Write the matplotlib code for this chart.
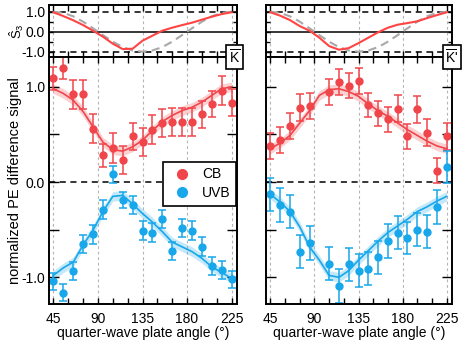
import numpy as np
import matplotlib
matplotlib.use("Agg")
import matplotlib.pyplot as plt
from matplotlib.lines import Line2D
from matplotlib.ticker import MultipleLocator, FormatStrFormatter

plt.rcParams["font.family"] = "Liberation Sans"
plt.rcParams["mathtext.fontset"] = "custom"
plt.rcParams["mathtext.rm"] = "Liberation Sans"
plt.rcParams["mathtext.it"] = "Liberation Sans:italic"
plt.rcParams["font.size"] = 10
plt.rcParams["axes.unicode_minus"] = False

# ===== DATA =====
angles = [45, 55, 65, 75, 85, 95, 105, 115, 125, 135, 145, 155, 165, 175, 185, 195, 205, 215, 225]
angles_kp = [45, 55, 65, 75, 85, 105, 115, 125, 135, 145, 155, 165, 175, 185, 195, 205, 215, 225]

# S3 of the light (top panels)
s3_ideal = [1.0, 0.94, 0.77, 0.5, 0.17, -0.17, -0.5, -0.77, -0.94, -1.0,
            -0.94, -0.77, -0.5, -0.17, 0.17, 0.5, 0.77, 0.94, 1.0]
s3_k = [0.97, 0.78, 0.57, 0.33, 0.05, -0.25, -0.6, -0.87, -0.85, -0.45,
        -0.2, 0.05, 0.2, 0.33, 0.45, 0.6, 0.75, 0.88, 0.97]
s3_kp = [0.97, 0.8, 0.58, 0.28, 0.05, -0.3, -0.72, -0.9, -0.82, -0.57,
         -0.3, -0.03, 0.2, 0.35, 0.43, 0.52, 0.68, 0.83, 0.97]

# K panel
cb_k = [1.09, 1.2, 0.92, 0.92, 0.56, 0.28, 0.36, 0.23, 0.48, 0.42,
        0.55, 0.62, 0.63, 0.63, 0.63, 0.71, 0.82, 0.96, 0.835]
cb_k_err = [0.12, 0.12, 0.15, 0.15, 0.15, 0.12, 0.155, 0.15, 0.145, 0.15,
            0.15, 0.15, 0.15, 0.145, 0.145, 0.14, 0.14, 0.155, 0.14]
cb_k_fit = [0.98, 0.93, 0.86, 0.74, 0.58, 0.42, 0.34, 0.325, 0.37, 0.44,
            0.54, 0.635, 0.70, 0.75, 0.785, 0.84, 0.91, 0.98, 1.0]
uvb_k = [-1.04, -1.16, -0.93, -0.65, -0.55, -0.29, 0.08, -0.19, -0.24, -0.51,
         -0.53, -0.39, -0.72, -0.48, -0.51, -0.68, -0.88, -0.92, -1.02]
uvb_k_err = [0.09, 0.09, 0.093, 0.093, 0.096, 0.1, 0.087, 0.087, 0.096, 0.1,
             0.096, 0.096, 0.096, 0.096, 0.1, 0.1, 0.096, 0.096, 0.09]
uvb_k_fit = [-0.98, -0.9, -0.84, -0.66, -0.505, -0.31, -0.15, -0.14, -0.23, -0.33,
             -0.42, -0.52, -0.63, -0.68, -0.73, -0.8, -0.89, -0.95, -1.01]

# K' panel
cb_kp = [0.38, 0.44, 0.59, 0.78, 0.8, 0.95, 1.05, 1.01, 1.06, 0.81,
         0.72, 0.66, 0.77, 0.48, 0.765, 0.52, 0.12, 0.48]
cb_kp_err = [0.134, 0.136, 0.136, 0.14, 0.136, 0.136, 0.14, 0.13, 0.136, 0.127,
             0.134, 0.133, 0.14, 0.134, 0.14, 0.14, 0.133, 0.14]
cb_kp_fit = [0.35, 0.41, 0.49, 0.62, 0.75, 0.91, 0.97, 0.98, 0.95, 0.90,
             0.82, 0.75, 0.69, 0.62, 0.55, 0.49, 0.43, 0.38, 0.35]
uvb_kp = [-0.13, -0.24, -0.31, -0.73, -0.64, -0.855, -1.09, -0.865, -0.93, -0.91,
          -0.79, -0.62, -0.53, -0.59, -0.5, -0.52, -0.26, 0.16]
uvb_kp_err = [0.175, 0.18, 0.175, 0.175, 0.178, 0.175, 0.175, 0.17, 0.17, 0.175,
              0.175, 0.175, 0.175, 0.17, 0.175, 0.175, 0.175, 0.166]
uvb_kp_fit = [-0.13, -0.21, -0.31, -0.47, -0.68, -0.82, -0.98, -1.0, -0.93, -0.82,
              -0.72, -0.62, -0.53, -0.46, -0.39, -0.31, -0.26, -0.2, -0.15]

band = 0.05

# ===== STYLE =====
RED = "#f0454b"
BLUE = "#17a7ea"
S3_RED = "#ff4444"
GRAY = "#a8a8a8"

W, H = 473, 346


def panel_axes(fig, x0, x1):
    top = fig.add_axes([x0 / W, (H - 57.3) / H, (x1 - x0) / W, 52.6 / H])
    main = fig.add_axes([x0 / W, (H - 304) / H, (x1 - x0) / W, 246.7 / H])
    return top, main


def style_axes(ax, ylim, ylen, show_xlabels, show_ylabels):
    ax.set_xlim(40.5, 230.5)
    ax.set_ylim(*ylim)
    ax.xaxis.set_major_locator(MultipleLocator(45))
    ax.xaxis.set_minor_locator(MultipleLocator(15))
    ax.yaxis.set_major_locator(MultipleLocator(1.0))
    ax.yaxis.set_minor_locator(MultipleLocator(0.5))
    ax.yaxis.set_major_formatter(FormatStrFormatter("%.1f"))
    ax.tick_params(axis="x", which="both", direction="in", top=True, bottom=True,
                   length=4, width=1.0, labelbottom=show_xlabels, pad=6)
    ax.tick_params(axis="y", which="both", direction="in", left=True, right=True,
                   length=ylen, width=1.0, labelleft=show_ylabels, pad=3)
    for s in ax.spines.values():
        s.set_linewidth(1.4)
    for a in [45, 90, 135, 180, 225]:
        ax.axvline(a, color="#b5b5b5", ls=(0, (2.5, 2.5)), lw=0.8, zorder=0)


def draw_panel(ax_top, ax, s3, xs, cb, cb_err, cb_fit, uvb, uvb_err, uvb_fit,
               label, label_x, show_ylabels):
    # top: S3
    style_axes(ax_top, (-1.28, 1.35), 3, False, show_ylabels)
    ax_top.axhline(1.0, color="black", ls=(0, (4, 3)), lw=1.1)
    ax_top.axhline(-1.0, color="black", ls=(0, (4, 3)), lw=1.1)
    ax_top.axhline(0.0, color="black", lw=1.1)
    ax_top.plot(angles, s3_ideal, color=GRAY, ls=(0, (4, 2.5)), lw=1.5)
    ax_top.plot(angles, s3, color=S3_RED, lw=1.5)

    # main: PE difference signal
    style_axes(ax, (-1.28, 1.31), 7, True, show_ylabels)
    ax.axhline(0.0, color="black", ls=(0, (4, 3)), lw=1.1)
    for fit, col in [(cb_fit, RED), (uvb_fit, BLUE)]:
        f = np.array(fit)
        ax.fill_between(angles, f - band, f + band, color=col, alpha=0.25, lw=0)
        ax.plot(angles, f, color=col, lw=1.2)
    ax.errorbar(xs, cb, yerr=cb_err, fmt="o", color=RED, ms=5, elinewidth=1.1,
                capsize=3, capthick=1.1)
    ax.errorbar(xs, uvb, yerr=uvb_err, fmt="o", color=BLUE, ms=5, elinewidth=1.1,
                capsize=3, capthick=1.1)
    ax.set_xlabel("quarter-wave plate angle (°)", labelpad=0)
    ax.text(label_x, 1.0, label, transform=ax.transAxes, ha="center", va="center",
            fontsize=10, clip_on=False, zorder=10,
            bbox=dict(boxstyle="square,pad=0.2", fc="white", ec="black", lw=1.2))


fig = plt.figure(figsize=(W / 100, H / 100), dpi=100)

top_k, main_k = panel_axes(fig, 49, 237)
top_kp, main_kp = panel_axes(fig, 266, 452)

draw_panel(top_k, main_k, s3_k, angles, cb_k, cb_k_err, cb_k_fit,
           uvb_k, uvb_k_err, uvb_k_fit, r"$\overline{\mathrm{K}}$", 0.985, True)
draw_panel(top_kp, main_kp, s3_kp, angles_kp, cb_kp, cb_kp_err, cb_kp_fit,
           uvb_kp, uvb_kp_err, uvb_kp_fit, r"$\overline{\mathrm{K}}$'", 1.0, False)

top_k.set_ylabel(r"$\hat{\mathrm{S}}_3$", fontsize=9.5)
main_k.set_ylabel("normalized PE difference signal", fontsize=10.5)
top_k.yaxis.set_label_coords(-0.125, 0.5)
main_k.yaxis.set_label_coords(-0.145, 0.5)

handles = [Line2D([], [], ls="none", marker="o", ms=7, color=RED),
           Line2D([], [], ls="none", marker="o", ms=7, color=BLUE)]
leg = main_k.legend(handles=handles, labels=["CB", "UVB"],
                    loc="upper right", bbox_to_anchor=(0.995, 0.576), borderaxespad=0,
                    fancybox=False, edgecolor="black", framealpha=1,
                    handletextpad=0.4, labelspacing=0.35, borderpad=0.4)
leg.get_frame().set_linewidth(1.2)

fig.savefig("out.png", dpi=100)
